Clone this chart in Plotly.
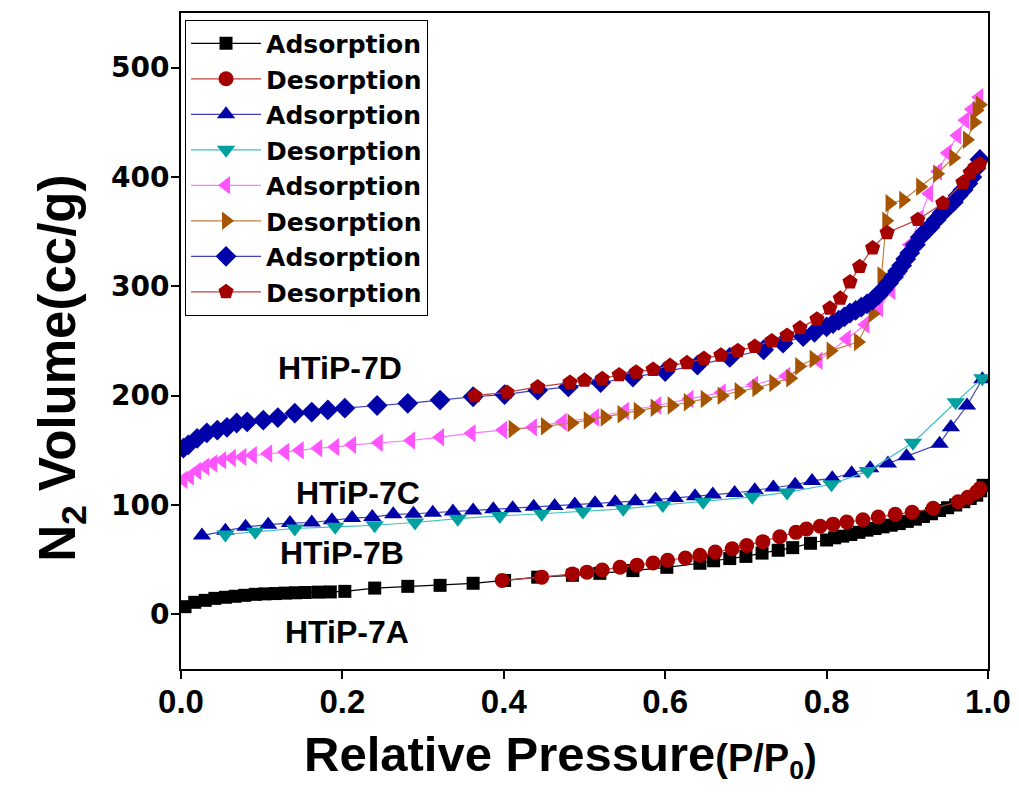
import plotly.graph_objects as go

# ---------------- data ----------------
a_ads_x = [0.005, 0.017, 0.03, 0.042, 0.055, 0.067, 0.079, 0.092, 0.104, 0.117, 0.129, 0.142, 0.154, 0.17, 0.185,
           0.203, 0.24, 0.281, 0.321, 0.362, 0.401, 0.442, 0.485, 0.519, 0.56, 0.602, 0.643, 0.66, 0.68, 0.70, 0.72,
           0.74, 0.758, 0.78, 0.80, 0.81, 0.82, 0.83, 0.84, 0.85, 0.86, 0.87, 0.88, 0.89, 0.90, 0.91, 0.92, 0.93,
           0.94, 0.95, 0.96, 0.97, 0.978, 0.986, 0.991, 0.994]
a_ads_y = [7, 11, 12.8, 14.6, 15.6, 16.5, 17.4, 18.3, 18.7, 19, 19.4, 19.7, 20, 20.3, 20.5,
           21, 24, 25.6, 26.5, 28.4, 31, 34, 35.7, 37.5, 40, 43, 46.7, 49, 51, 53, 56,
           58.6, 61, 65, 68, 70, 71.5, 73, 75, 77, 78.5, 80, 81.5, 83, 85, 87, 89.5, 92,
           95, 97.5, 100, 103, 106, 109, 113, 118]

a_des_x = [0.99, 0.986, 0.975, 0.963, 0.932, 0.906, 0.885, 0.864, 0.845, 0.825, 0.808, 0.792, 0.775, 0.762, 0.742,
           0.721, 0.701, 0.683, 0.662, 0.643, 0.625, 0.603, 0.585, 0.565, 0.544, 0.522, 0.503, 0.485, 0.447, 0.398]
a_des_y = [115, 112, 107, 103, 97, 93.4, 91.5, 89, 86.5, 84.5, 82.5, 80.5, 78, 75, 71,
           66.5, 63, 60, 57, 54, 51.5, 49.5, 47, 45, 43, 40.5, 38.6, 37, 34, 31]

b_ads_x = [0.026, 0.055, 0.08, 0.108, 0.135, 0.162, 0.187, 0.212, 0.237, 0.263, 0.288, 0.312, 0.337, 0.362, 0.387,
           0.411, 0.437, 0.463, 0.488, 0.513, 0.538, 0.563, 0.588, 0.612, 0.637, 0.659, 0.686, 0.711, 0.734, 0.761,
           0.782, 0.807, 0.831, 0.854, 0.876, 0.899, 0.94, 0.954, 0.974, 0.993]
b_ads_y = [72, 76.5, 80, 82, 83.5, 84, 86, 88, 89, 91.5, 92, 93, 94, 95, 96,
           97, 98.5, 99, 100.5, 101.5, 102.5, 103.5, 105, 106.5, 108, 109.5, 111, 113.5, 116, 118.5,
           122, 124.5, 129, 133.5, 138, 144.5, 156, 171, 191, 215]

b_des_x = [0.993, 0.96, 0.907, 0.851, 0.806, 0.751, 0.708, 0.647, 0.597, 0.548, 0.498, 0.447, 0.395, 0.343, 0.29,
           0.24, 0.191, 0.141, 0.092, 0.055]
b_des_y = [216, 194, 157, 131, 119, 111.5, 107.5, 103, 100, 96.5, 94, 92, 90, 87.5, 84,
           81.5, 80, 78.5, 75.5, 73]

c_ads_x = [0.003, 0.011, 0.02, 0.03, 0.04, 0.051, 0.063, 0.076, 0.089, 0.108, 0.129, 0.147, 0.17, 0.191, 0.212,
           0.245, 0.285, 0.321, 0.36, 0.399, 0.436, 0.473, 0.513, 0.55, 0.59, 0.63, 0.67, 0.71, 0.75, 0.79,
           0.825, 0.848, 0.865, 0.88, 0.893, 0.903, 0.915, 0.927, 0.938, 0.95, 0.962, 0.972, 0.98, 0.989]
c_ads_y = [123, 126, 131, 135, 138, 141, 143, 144, 145.6, 147, 148.4, 150, 152, 153, 155,
           157, 159, 162, 165.7, 168.5, 171, 176, 180, 186, 191, 197, 203, 210, 218, 232,
           252, 265, 280, 296, 318, 338, 362, 385, 405, 422, 438, 452, 462, 473]

c_des_x = [0.99, 0.986, 0.983, 0.974, 0.957, 0.937, 0.916, 0.895, 0.878, 0.874, 0.868, 0.857, 0.839, 0.805, 0.784,
           0.766, 0.755, 0.734, 0.713, 0.691, 0.67, 0.649, 0.628, 0.608, 0.587, 0.566, 0.546, 0.525, 0.504, 0.484,
           0.451, 0.411]
c_des_y = [466, 461, 450, 434, 417.6, 403, 391, 379, 376, 360, 310, 275, 249, 241, 233.5,
           227, 216, 211.5, 207, 204, 200, 197, 194, 191, 189, 186, 183, 180, 177.6, 175,
           172, 169.5]

d_ads_x = [0.003, 0.009, 0.02, 0.032, 0.045, 0.057, 0.069, 0.082, 0.102, 0.12, 0.141, 0.162, 0.182, 0.203, 0.243,
           0.281, 0.321, 0.362, 0.401, 0.442, 0.48, 0.52, 0.56, 0.6, 0.64, 0.68, 0.722, 0.746, 0.771, 0.785,
           0.8, 0.808, 0.815, 0.822, 0.829, 0.836, 0.843, 0.85, 0.857, 0.864, 0.87, 0.877, 0.883, 0.888, 0.893,
           0.898, 0.903, 0.91, 0.916, 0.922, 0.928, 0.936, 0.943, 0.95, 0.957, 0.963, 0.969, 0.975, 0.98, 0.985, 0.99]
d_ads_y = [152, 155, 161, 166, 168.5, 171, 175, 176, 177.6, 180, 184, 185, 187, 188.6, 191,
           193, 196, 199, 201, 205, 208, 212, 217, 222, 228, 235, 242, 248, 254, 258,
           263, 266, 269, 272, 275.6, 278, 281, 284, 287.5, 292, 297, 303, 308.6, 314, 319,
           325, 330.6, 338, 345, 350, 354, 361, 367, 372, 377, 383, 388, 394, 400, 408, 416]

d_des_x = [0.99, 0.984, 0.978, 0.969, 0.944, 0.913, 0.875, 0.857, 0.841, 0.829, 0.817, 0.804, 0.788, 0.767, 0.751,
           0.732, 0.711, 0.69, 0.669, 0.648, 0.627, 0.606, 0.585, 0.564, 0.543, 0.522, 0.5, 0.482, 0.442, 0.404,
           0.364]
d_des_y = [412, 409, 404, 395, 376, 361, 349, 335, 318, 304, 289, 280, 270, 262, 255,
           250, 245, 241, 237, 234, 230, 227.5, 224, 221.5, 219, 215.5, 214, 212, 208, 203,
           200]

series_names = ["Adsorption", "Desorption", "Adsorption", "Desorption",
                "Adsorption", "Desorption", "Adsorption", "Desorption"]
sample_labels = ["HTiP-7D", "HTiP-7C", "HTiP-7B", "HTiP-7A"]
label_x = [0.197, 0.219, 0.200, 0.206]
label_y = [225, 111, 56, -16]

xticks = [0.0, 0.2, 0.4, 0.6, 0.8, 1.0]
yticks = [0, 100, 200, 300, 400, 500]

x_title = "Relative Pressure<span style='font-size:38px'>(P/P<sub>0</sub>)</span>"
y_title = "N<sub>2</sub> Volume(cc/g)"

# ---------------- styles ----------------
styles = [
    dict(symbol="square", color="#000000", line="#000000", size=13),
    dict(symbol="circle", color="#A50000", line="#C04040", size=15),
    dict(symbol="triangle-up", color="#0000A8", line="#4040C0", size=16),
    dict(symbol="triangle-down", color="#00A0A0", line="#40C0C0", size=16),
    dict(symbol="triangle-left", color="#FF55FF", line="#FF77FF", size=16),
    dict(symbol="triangle-right", color="#A65400", line="#C08040", size=16),
    dict(symbol="diamond", color="#0000A8", line="#4040C0", size=16),
    dict(symbol="pentagon", color="#A50000", line="#C04040", size=16),
]
data = [(a_ads_x, a_ads_y), (a_des_x, a_des_y), (b_ads_x, b_ads_y), (b_des_x, b_des_y),
        (c_ads_x, c_ads_y), (c_des_x, c_des_y), (d_ads_x, d_ads_y), (d_des_x, d_des_y)]

fig = go.Figure()
for (xs, ys), st, nm in zip(data, styles, series_names):
    fig.add_trace(go.Scatter(
        x=xs, y=ys, mode="lines+markers", name=nm,
        line=dict(color=st["line"], width=1.2),
        marker=dict(symbol=st["symbol"], color=st["color"], size=st["size"], line=dict(width=0)),
    ))

bold = dict(family="Liberation Sans, Arial", color="black", weight="bold")
for t, lx, ly in zip(sample_labels, label_x, label_y):
    fig.add_annotation(x=lx, y=ly, text=t, showarrow=False, font=dict(size=32, **bold))

fig.add_annotation(xref="paper", yref="paper", x=0.47, y=-0.133, xanchor="center", yanchor="middle",
                   text=x_title, showarrow=False, font=dict(size=49, **bold))
fig.add_annotation(xref="paper", yref="paper", x=-0.1475, y=0.459, xanchor="center", yanchor="middle",
                   text=y_title, textangle=-90, showarrow=False, font=dict(size=51, **bold))

axis_common = dict(showline=True, linecolor="black", linewidth=2, mirror=True,
                   ticks="outside", ticklen=8, tickwidth=2, tickcolor="black",
                   showgrid=False, zeroline=False, automargin=False)

fig.update_layout(
    width=1011, height=794,
    margin=dict(l=173, r=31, t=5, b=133),
    paper_bgcolor="white", plot_bgcolor="white",
    showlegend=True,
    legend=dict(x=0.005, y=0.99, xanchor="left", yanchor="top",
                bgcolor="white", bordercolor="black", borderwidth=1,
                font=dict(family="DejaVu Sans", size=25, color="black", weight="bold"),
                itemwidth=70, tracegroupgap=0),
    xaxis=dict(range=[0, 1.0], tickvals=xticks, ticktext=[f"{v:.1f}" for v in xticks],
               tickfont=dict(size=33, **bold), ticklabelstandoff=-6,
               **axis_common),
    yaxis=dict(range=[-50, 550], tickvals=yticks, ticktext=[str(v) for v in yticks],
               tickfont=dict(family="DejaVu Sans", size=28, color="black", weight="bold"),
               ticklabelstandoff=-4,
               **axis_common),
)

fig.write_html("out.html")
